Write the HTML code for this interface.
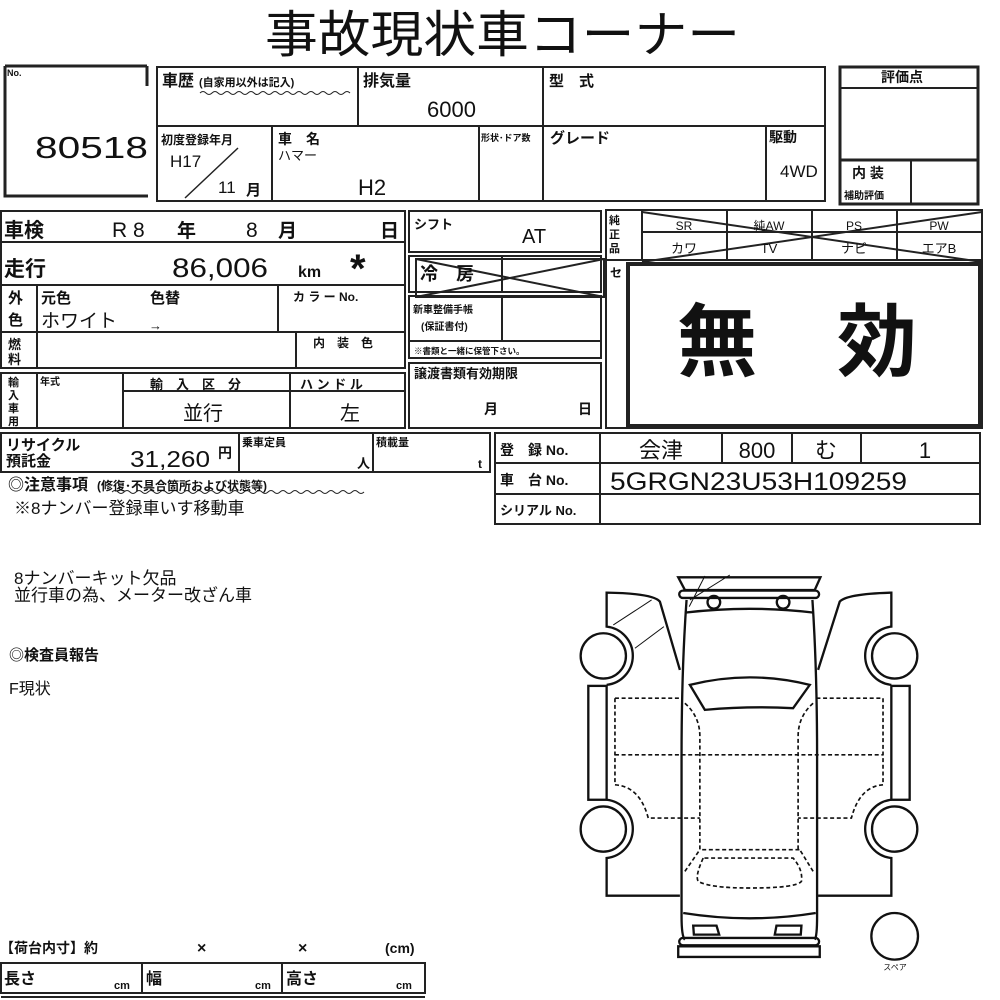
<!DOCTYPE html>
<html><head><meta charset="utf-8">
<style>
html,body{margin:0;padding:0;background:#fff;}
svg{display:block;}
text{font-family:"Liberation Sans","Noto Sans CJK JP",sans-serif;fill:#111;}
.b{font-weight:bold;}
</style></head>
<body>
<svg width="1000" height="1000" viewBox="0 0 1000 1000" xmlns="http://www.w3.org/2000/svg">
<g stroke="#222" stroke-width="2" fill="none">
<path d="M5,66 L147,66 M147,66 L147,86 M5,66 L5,196 L148,196" stroke-width="3"/>
<rect x="157" y="67" width="668" height="134"/>
<line x1="157" y1="126" x2="825" y2="126"/>
<line x1="358" y1="67" x2="358" y2="126"/>
<line x1="543" y1="67" x2="543" y2="201"/>
<line x1="272" y1="126" x2="272" y2="201"/>
<line x1="479" y1="126" x2="479" y2="201"/>
<line x1="766" y1="126" x2="766" y2="201"/>
<line x1="185" y1="198" x2="238" y2="148" stroke-width="1.5"/>
<rect x="840" y="67" width="138" height="137" stroke-width="3"/>
<line x1="840" y1="88" x2="978" y2="88"/>
<line x1="840" y1="160" x2="978" y2="160" stroke-width="3"/>
<line x1="911" y1="160" x2="911" y2="204" stroke-width="2"/>
<rect x="1" y="211" width="404" height="31"/>
<rect x="1" y="242" width="404" height="43"/>
<rect x="1" y="285" width="404" height="47"/>
<rect x="1" y="332" width="404" height="36"/>
<line x1="37" y1="285" x2="37" y2="368"/>
<line x1="278" y1="285" x2="278" y2="332"/>
<line x1="296" y1="332" x2="296" y2="368"/>
<rect x="1" y="373" width="404" height="55"/>
<line x1="37" y1="373" x2="37" y2="428"/>
<line x1="123" y1="373" x2="123" y2="428"/>
<line x1="290" y1="373" x2="290" y2="428"/>
<line x1="123" y1="391" x2="405" y2="391"/>
<rect x="409" y="211" width="192" height="41"/>
<rect x="409" y="256" width="192" height="36"/>
<line x1="502" y1="256" x2="502" y2="292"/>
<rect x="416" y="259" width="188" height="38"/>
<line x1="416" y1="259" x2="604" y2="297"/>
<line x1="416" y1="297" x2="604" y2="259"/>
<rect x="409" y="296" width="192" height="62"/>
<line x1="502" y1="296" x2="502" y2="341"/>
<line x1="409" y1="341" x2="601" y2="341"/>
<rect x="409" y="363" width="192" height="65"/>
<rect x="606" y="210" width="376" height="218"/>
<line x1="642" y1="210" x2="642" y2="260"/>
<line x1="606" y1="260" x2="982" y2="260"/>
<line x1="642" y1="232" x2="982" y2="232"/>
<line x1="727" y1="210" x2="727" y2="260"/>
<line x1="812" y1="210" x2="812" y2="260"/>
<line x1="897" y1="210" x2="897" y2="260"/>
<line x1="642" y1="212" x2="982" y2="262"/>
<line x1="642" y1="262" x2="982" y2="212"/>
<rect x="628" y="264" width="352" height="162" stroke-width="4"/>
<rect x="1" y="433" width="489" height="39"/>
<line x1="239" y1="433" x2="239" y2="472"/>
<line x1="373" y1="433" x2="373" y2="472"/>
<path d="M112,492 q3,-3 6,0 t6,0 t6,0 t6,0 t6,0 t6,0 t6,0 t6,0 t6,0 t6,0 t6,0 t6,0 t6,0 t6,0 t6,0 t6,0 t6,0 t6,0 t6,0 t6,0 t6,0 t6,0 t6,0 t6,0 t6,0 t6,0 t6,0 t6,0 t6,0 t6,0 t6,0 t6,0 t6,0 t6,0 t6,0 t6,0 t6,0 t6,0 t6,0 t6,0 t6,0 t6,0" stroke-width="1"/>
<path d="M200,93 q3,-3 6,0 t6,0 t6,0 t6,0 t6,0 t6,0 t6,0 t6,0 t6,0 t6,0 t6,0 t6,0 t6,0 t6,0 t6,0 t6,0 t6,0 t6,0 t6,0 t6,0 t6,0 t6,0 t6,0 t6,0 t6,0" stroke-width="1"/>
<rect x="495" y="433" width="485" height="91"/>
<line x1="495" y1="463" x2="980" y2="463"/>
<line x1="495" y1="494" x2="980" y2="494"/>
<line x1="600" y1="433" x2="600" y2="524"/>
<line x1="722" y1="433" x2="722" y2="463"/>
<line x1="792" y1="433" x2="792" y2="463"/>
<line x1="861" y1="433" x2="861" y2="463"/>
<rect x="1" y="963" width="424" height="30"/>
<line x1="142" y1="963" x2="142" y2="993"/>
<line x1="282" y1="963" x2="282" y2="993"/>
<line x1="1" y1="997" x2="425" y2="997"/>
</g>

<g transform="translate(570,570) scale(0.333)" stroke="#111" stroke-width="7" fill="none">
<polygon points="325,22 752,22 735,60 345,60"/>
<rect x="328" y="62" width="420" height="22" rx="11"/>
<path d="M350,90 Q335,300 335,560 L335,1040 Q335,1100 345,1110 M728,90 Q742,300 742,560 L742,1040 Q742,1100 735,1110"/>
<path d="M345,128 Q540,105 732,128"/>
<circle cx="432" cy="97" r="19"/><circle cx="640" cy="97" r="19"/>
<path d="M360,345 Q540,300 720,345 L670,415 Q540,408 405,420 Z"/>
<path d="M340,1030 Q540,1062 738,1030"/>
<rect x="328" y="1105" width="420" height="22" rx="11"/>
<polygon points="325,1130 750,1130 750,1162 325,1162"/>
<polygon points="370,1068 440,1068 448,1095 372,1095"/>
<polygon points="620,1068 695,1068 693,1095 615,1095"/>
<path d="M330,300 L270,95 Q250,70 110,68 L110,170 A88,88 0 0 1 110,345 M110,690 A88,88 0 0 1 110,865 L110,978 L330,978"/>
<rect x="55" y="348" width="55" height="342"/>
<path d="M745,300 L810,95 Q830,72 965,68 L965,170 A88,88 0 0 0 965,345 M965,690 A88,88 0 0 0 965,865 L965,978 L745,978"/>
<rect x="965" y="348" width="55" height="342"/>
<circle cx="100" cy="258" r="68"/><circle cx="100" cy="778" r="68"/>
<circle cx="975" cy="258" r="68"/><circle cx="975" cy="778" r="68"/>
<circle cx="975" cy="1100" r="70"/>
<g stroke-width="3"><line x1="130" y1="165" x2="245" y2="90"/><line x1="195" y1="235" x2="282" y2="170"/><line x1="358" y1="110" x2="405" y2="18"/><line x1="360" y1="90" x2="480" y2="15"/></g>
<g stroke-width="5" stroke-dasharray="12,8">
<path d="M135,385 L335,385 M135,385 L135,645 Q210,650 235,745 L390,745 M135,555 L940,555"/>
<path d="M740,385 L940,385 L940,645 Q870,650 845,745 L685,745"/>
<path d="M345,400 Q390,440 390,500 L390,840 L690,840 M730,400 Q685,440 685,500 L685,840"/>
<path d="M400,865 Q375,920 385,935 Q420,955 540,955 Q680,955 695,935 Q700,900 670,865 Z"/>
<path d="M345,905 L390,840 M730,905 L690,840"/>
</g>
</g>
<text x="895" y="970" font-size="8" text-anchor="middle">スペア</text>

<text x="265" y="52" font-size="50" textLength="475" lengthAdjust="spacingAndGlyphs">事故現状車コーナー</text>
<text x="7" y="76" font-size="9" class="b">No.</text>
<text x="35" y="158" font-size="31" textLength="113" lengthAdjust="spacingAndGlyphs">80518</text>
<text x="162" y="86" font-size="16" class="b">車歴</text>
<text x="199" y="86" font-size="11" class="b">(自家用以外は記入)</text>
<text x="363" y="86" font-size="16" class="b">排気量</text>
<text x="427" y="117" font-size="22">6000</text>
<text x="549" y="86" font-size="15" class="b">型　式</text>
<text x="161" y="144" font-size="12" class="b">初度登録年月</text>
<text x="170" y="167" font-size="17">H17</text>
<text x="218" y="193" font-size="17">11</text>
<text x="246" y="195" font-size="15" class="b">月</text>
<text x="278" y="144" font-size="14" class="b">車　名</text>
<text x="278" y="160" font-size="13">ハマー</text>
<text x="358" y="195" font-size="22">H2</text>
<text x="481" y="141" font-size="9" class="b">形状･ドア数</text>
<text x="550" y="143" font-size="15" class="b">グレード</text>
<text x="769" y="142" font-size="14" class="b">駆動</text>
<text x="780" y="177" font-size="17">4WD</text>
<text x="881" y="82" font-size="14" class="b">評価点</text>
<text x="852" y="178" font-size="14" class="b">内 装</text>
<text x="844" y="199" font-size="10" class="b">補助評価</text>

<text x="4" y="237" font-size="20" class="b">車検</text>
<text x="112" y="237" font-size="21">R 8</text>
<text x="177" y="237" font-size="19" class="b">年</text>
<text x="246" y="237" font-size="21">8</text>
<text x="278" y="237" font-size="19" class="b">月</text>
<text x="380" y="237" font-size="19" class="b">日</text>
<text x="4" y="276" font-size="21" class="b">走行</text>
<text x="172" y="277" font-size="27" textLength="96" lengthAdjust="spacingAndGlyphs">86,006</text>
<text x="298" y="277" font-size="16" class="b">km</text>
<text x="350" y="282" font-size="40" class="b">*</text>
<text x="8" y="303" font-size="15" class="b">外</text>
<text x="8" y="325" font-size="15" class="b">色</text>
<text x="41" y="303" font-size="15" class="b">元色</text>
<text x="150" y="303" font-size="15" class="b">色替</text>
<text x="41" y="327" font-size="19">ホワイト</text>
<text x="149" y="330" font-size="13">→</text>
<text x="293" y="301" font-size="12" class="b">カ ラ ー No.</text>
<text x="8" y="349" font-size="13" class="b">燃</text>
<text x="8" y="364" font-size="13" class="b">料</text>
<text x="313" y="347" font-size="12" class="b">内　装　色</text>
<text x="8" y="386" font-size="11" class="b">輸</text>
<text x="8" y="399" font-size="11" class="b">入</text>
<text x="8" y="412" font-size="11" class="b">車</text>
<text x="8" y="425" font-size="11" class="b">用</text>
<text x="40" y="385" font-size="10" class="b">年式</text>
<text x="150" y="389" font-size="13" class="b">輸　入　区　分</text>
<text x="300" y="389" font-size="13" class="b">ハ ン ド ル</text>
<text x="183" y="420" font-size="20">並行</text>
<text x="340" y="420" font-size="20">左</text>

<text x="414" y="229" font-size="13" class="b">シフト</text>
<text x="522" y="243" font-size="20">AT</text>
<text x="420" y="280" font-size="18" class="b">冷　房</text>
<text x="413" y="313" font-size="10" class="b">新車整備手帳</text>
<text x="421" y="330" font-size="10" class="b">(保証書付)</text>
<text x="414" y="354" font-size="8.5" class="b">※書類と一緒に保管下さい。</text>
<text x="414" y="378" font-size="13" class="b">譲渡書類有効期限</text>
<text x="484" y="414" font-size="14" class="b">月</text>
<text x="578" y="414" font-size="14" class="b">日</text>

<text x="609" y="224" font-size="11" class="b">純</text>
<text x="609" y="238" font-size="11" class="b">正</text>
<text x="609" y="252" font-size="11" class="b">品</text>
<text x="684" y="230" font-size="12" text-anchor="middle">SR</text>
<text x="769" y="230" font-size="12" text-anchor="middle">純AW</text>
<text x="854" y="230" font-size="12" text-anchor="middle">PS</text>
<text x="939" y="230" font-size="12" text-anchor="middle">PW</text>
<text x="684" y="253" font-size="13" text-anchor="middle">カワ</text>
<text x="769" y="253" font-size="13" text-anchor="middle">TV</text>
<text x="854" y="253" font-size="13" text-anchor="middle">ナビ</text>
<text x="939" y="253" font-size="13" text-anchor="middle">エアB</text>
<text x="610" y="277" font-size="12" class="b">セ</text>
<text x="677" y="370" font-size="80" class="b">無</text>
<text x="837" y="370" font-size="80" class="b">効</text>

<text x="6" y="450" font-size="15" class="b">リサイクル</text>
<text x="6" y="466" font-size="15" class="b">預託金</text>
<text x="130" y="467" font-size="23" textLength="80" lengthAdjust="spacingAndGlyphs">31,260</text>
<text x="218" y="458" font-size="14" class="b">円</text>
<text x="242" y="446" font-size="11" class="b">乗車定員</text>
<text x="357" y="468" font-size="13" class="b">人</text>
<text x="376" y="446" font-size="11" class="b">積載量</text>
<text x="478" y="468" font-size="12" class="b">t</text>
<text x="8" y="490" font-size="16" class="b">◎注意事項</text>
<text x="97" y="490" font-size="12" class="b">(修復･不具合箇所および状態等)</text>
<text x="14" y="514" font-size="17">※8ナンバー登録車いす移動車</text>

<text x="500" y="455" font-size="14" class="b">登　録 No.</text>
<text x="500" y="485" font-size="14" class="b">車　台 No.</text>
<text x="500" y="515" font-size="13" class="b">シリアル No.</text>
<text x="661" y="458" font-size="22" text-anchor="middle">会津</text>
<text x="757" y="458" font-size="22" text-anchor="middle">800</text>
<text x="826" y="458" font-size="22" text-anchor="middle">む</text>
<text x="925" y="458" font-size="22" text-anchor="middle">1</text>
<text x="610" y="490" font-size="25" textLength="297" lengthAdjust="spacingAndGlyphs">5GRGN23U53H109259</text>

<text x="14" y="584" font-size="17">8ナンバーキット欠品</text>
<text x="14" y="601" font-size="17">並行車の為、メーター改ざん車</text>
<text x="9" y="660" font-size="15" class="b">◎検査員報告</text>
<text x="9" y="694" font-size="16">F現状</text>

<text x="0" y="953" font-size="14" class="b">【荷台内寸】約</text>
<text x="197" y="953" font-size="16" class="b">×</text>
<text x="298" y="953" font-size="16" class="b">×</text>
<text x="385" y="953" font-size="14" class="b">(cm)</text>
<text x="4" y="984" font-size="16" class="b">長さ</text>
<text x="114" y="989" font-size="11" class="b">cm</text>
<text x="146" y="984" font-size="16" class="b">幅</text>
<text x="255" y="989" font-size="11" class="b">cm</text>
<text x="286" y="984" font-size="16" class="b">高さ</text>
<text x="396" y="989" font-size="11" class="b">cm</text>
</svg>
</body></html>
